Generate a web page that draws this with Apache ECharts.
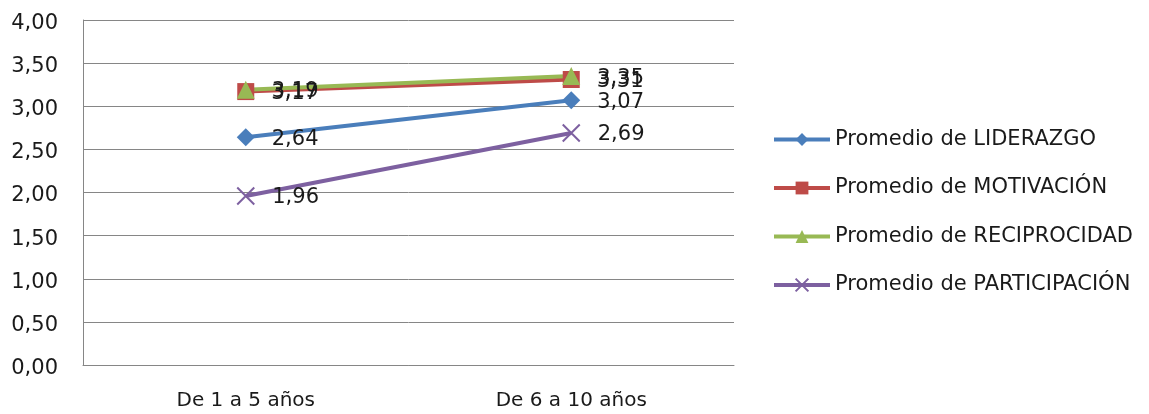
<!DOCTYPE html>
<html>
<head>
<meta charset="utf-8">
<script src="https://cdn.jsdelivr.net/npm/echarts@6/dist/echarts.min.js"></script>
<style>
  html, body { margin: 0; padding: 0; background: #fff; }
  #chart { width: 1149px; height: 414px; }
</style>
</head>
<body>
<div id="chart"></div>
<script>
// Average scores by years of service
const categories = ['De 1 a 5 años', 'De 6 a 10 años'];
const liderazgo = [2.64, 3.07];
const motivacion = [3.17, 3.31];
const reciprocidad = [3.19, 3.35];
const participacion = [1.96, 2.69];
const seriesNames = [
  'Promedio de LIDERAZGO',
  'Promedio de MOTIVACIÓN',
  'Promedio de RECIPROCIDAD',
  'Promedio de PARTICIPACIÓN'
];

const FONT = '"DejaVu Sans", sans-serif';
const TEXT = '#1a1a1a';
const fmt = v => v.toFixed(2).replace('.', ',');

const labelStyle = {
  show: true,
  position: 'right',
  distance: 17,
  offset: [0, 2],
  fontFamily: FONT,
  fontSize: 21,
  color: TEXT,
  formatter: p => fmt(p.value)
};

function lineSeries(name, data, color, symbol, size, extraItem) {
  return {
    name: name,
    type: 'line',
    data: data,
    symbol: symbol,
    symbolSize: size,
    showAllSymbol: true,
    lineStyle: { color: color, width: 4 },
    itemStyle: Object.assign({ color: color }, extraItem || {}),
    label: labelStyle,
    emphasis: { disabled: true },
    animation: false
  };
}

const chart = echarts.init(document.getElementById('chart'), null, { renderer: 'canvas' });
chart.setOption({
  backgroundColor: '#fff',
  animation: false,
  grid: { left: 83, right: 415, top: 20, bottom: 49 },
  legend: {
    orient: 'vertical',
    left: 767,
    top: 124,
    itemGap: 27.5,
    itemWidth: 56,
    itemHeight: 16,
    lineStyle: { width: 4 },
    textStyle: { fontFamily: FONT, fontSize: 21, color: TEXT },
    data: seriesNames
  },
  xAxis: {
    type: 'category',
    data: categories,
    boundaryGap: true,
    axisLine: { lineStyle: { color: '#868686', width: 1 } },
    axisTick: { show: false },
    axisLabel: { fontFamily: FONT, fontSize: 20, color: TEXT, margin: 26 }
  },
  yAxis: {
    type: 'value',
    min: 0,
    max: 4,
    interval: 0.5,
    axisLine: { show: true, lineStyle: { color: '#868686', width: 1 } },
    axisTick: { show: false },
    splitLine: { lineStyle: { color: '#868686', width: 1 } },
    axisLabel: {
      margin: 25,
      formatter: v => '{v|' + fmt(v) + '}',
      rich: {
        v: { fontFamily: FONT, fontSize: 21, color: TEXT, padding: [7, 0, 0, 0] }
      }
    }
  },
  series: [
    lineSeries(seriesNames[0], liderazgo, '#4A7EBB', 'diamond', 18),
    lineSeries(seriesNames[1], motivacion, '#BE4B48', 'rect', 17),
    lineSeries(seriesNames[2], reciprocidad, '#98B954', 'triangle', 18),
    lineSeries(seriesNames[3], participacion, '#7D60A0', 'path://M0,0L10,10M10,0L0,10', 17,
      { borderColor: '#7D60A0', borderWidth: 2 })
  ]
});
</script>
</body>
</html>
